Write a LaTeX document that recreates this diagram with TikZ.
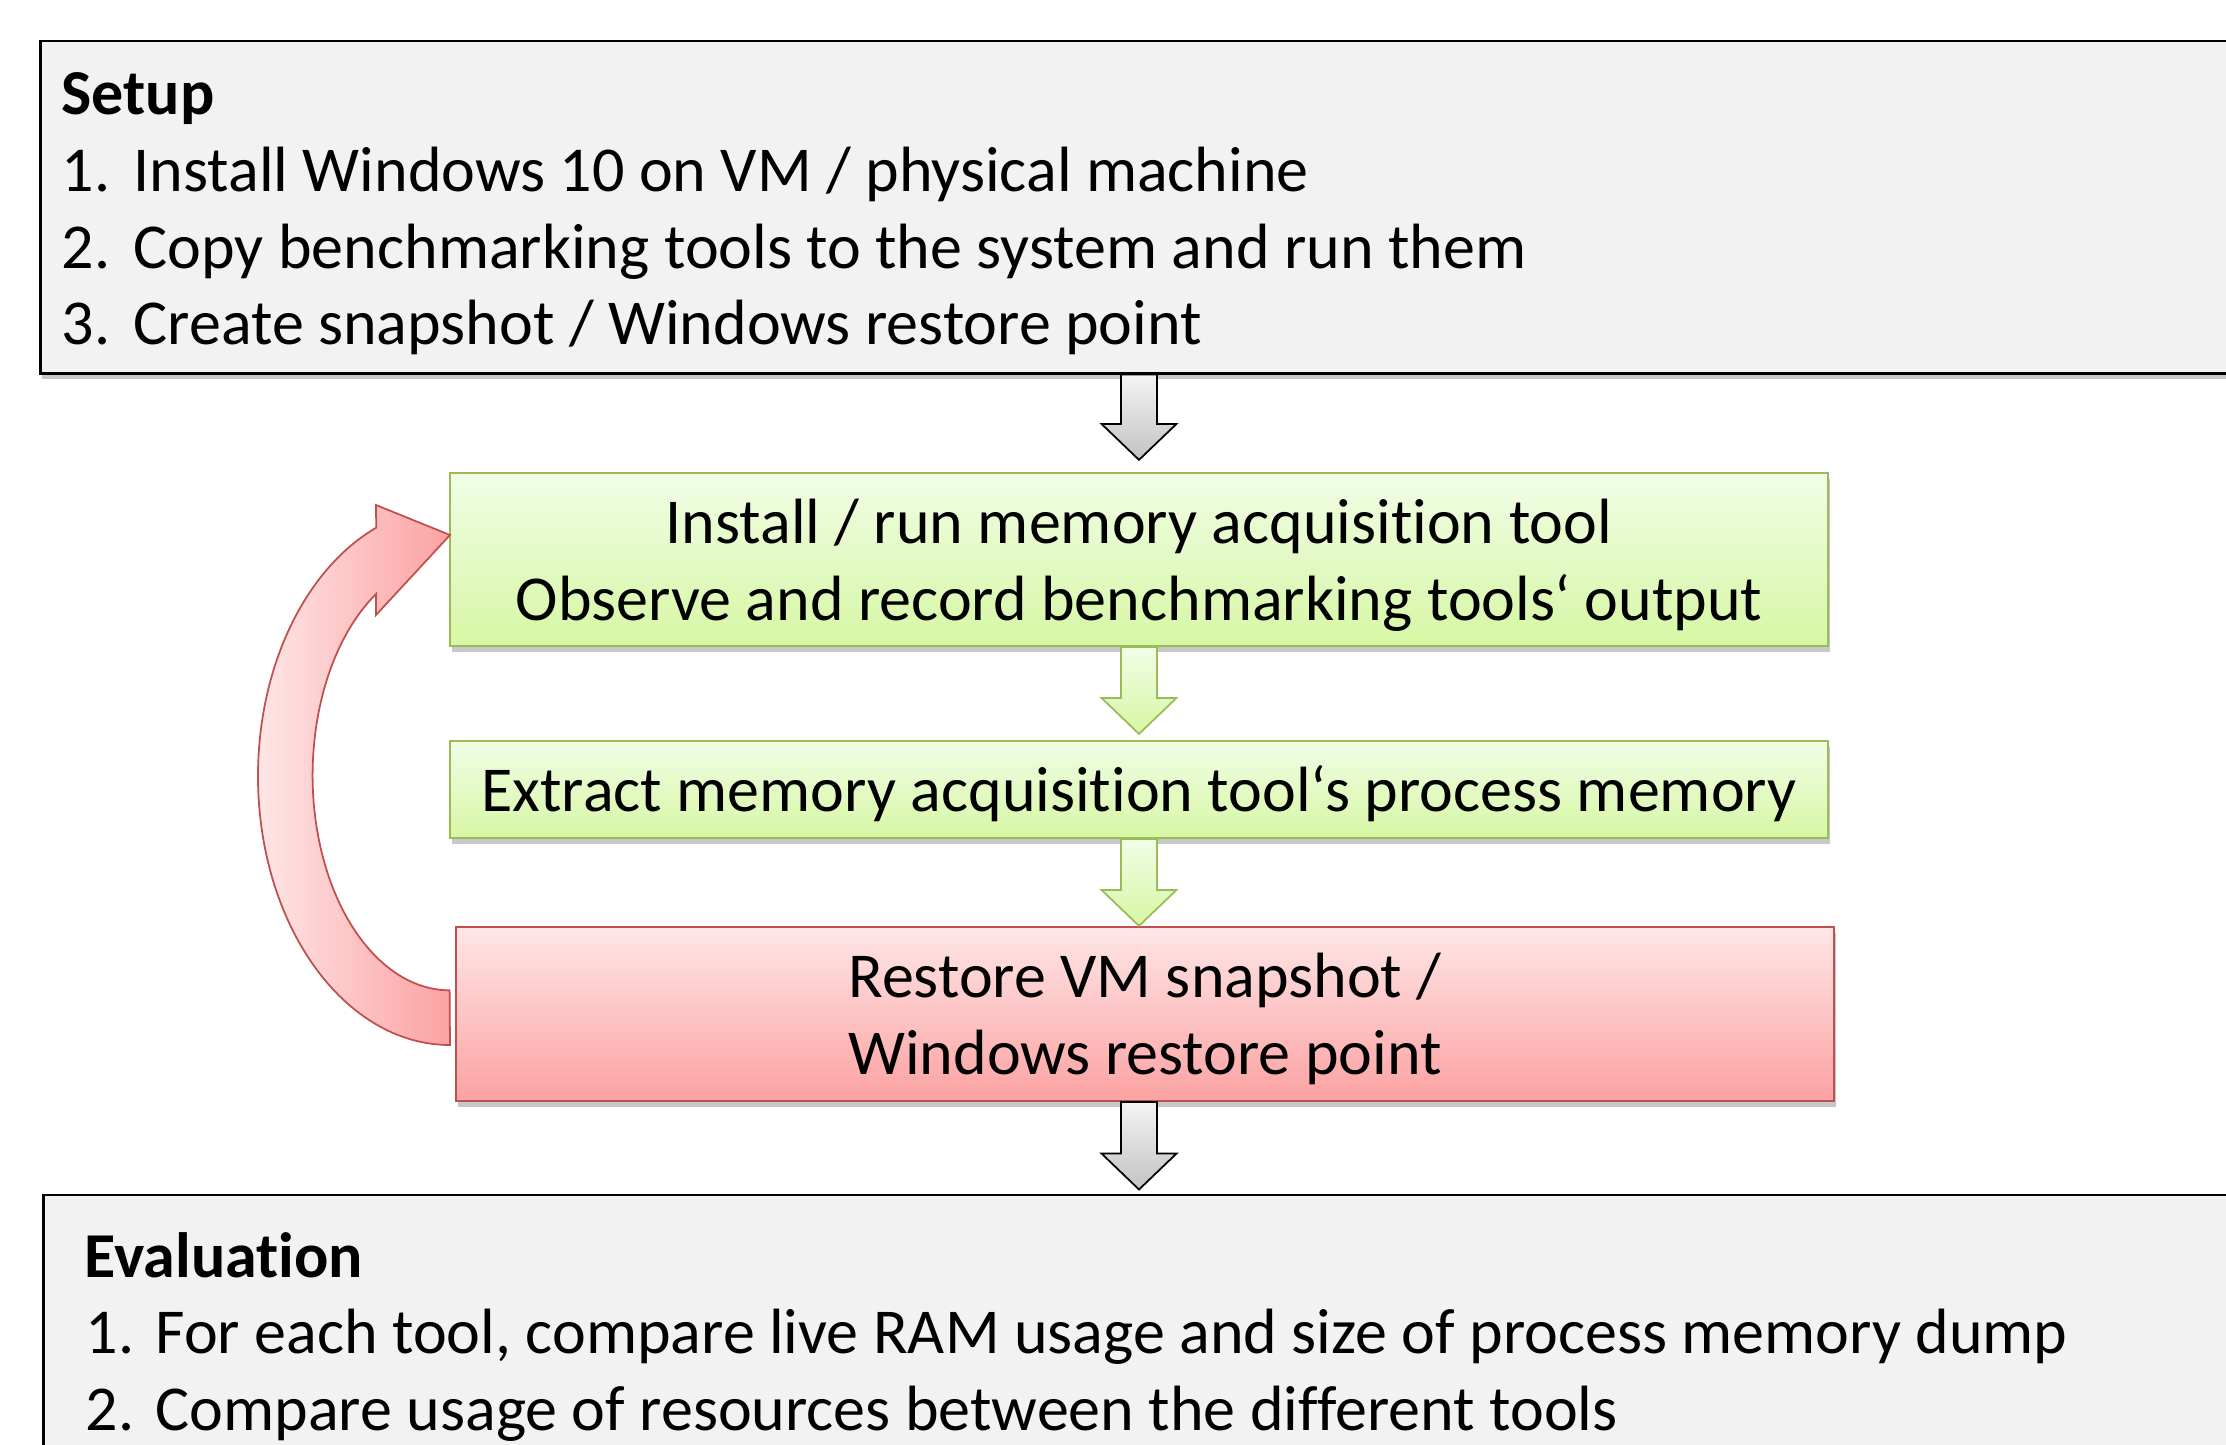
\documentclass[tikz,border=0pt]{standalone}
\usepackage{fontspec}
\setmainfont{Carlito}[Ligatures={TeX,NoCommon}]
\usetikzlibrary{calc,shadows}
\definecolor{boxgray}{HTML}{F2F2F2}
\definecolor{greentop}{HTML}{F1FDE6}
\definecolor{greenbot}{HTML}{D6F7A4}
\definecolor{greenline}{HTML}{9BBB59}
\definecolor{redtop}{HTML}{FEE6E6}
\definecolor{redbot}{HTML}{FCA2A2}
\definecolor{redline}{HTML}{C0504D}
\definecolor{arrgraytop}{HTML}{F4F4F4}
\definecolor{arrgraybot}{HTML}{C2C2C2}
\tikzset{
  myshadow/.style={drop shadow={fill=black, opacity=0.22, shadow xshift=0.02cm, shadow yshift=-0.06cm}},
  graybox/.style={rectangle, draw=black, line width=0.8pt, fill=boxgray, myshadow, inner sep=0pt},
  greenbox/.style={rectangle, draw=greenline, line width=0.6pt, top color=greentop, bottom color=greenbot, myshadow, inner sep=0pt, minimum width=13.78cm},
  redbox/.style={rectangle, draw=redline, line width=0.6pt, top color=redtop, bottom color=redbot, myshadow, inner sep=0pt, minimum width=13.78cm},
  txt/.style={inner sep=0pt, font=\fontsize{18.2pt}{22pt}\selectfont},
  ltxt/.style={txt, anchor=base west},
  ctxt/.style={txt, anchor=base},
  grayarrow/.style={draw=black, line width=0.5pt, top color=arrgraytop, bottom color=arrgraybot},
  greenarrow/.style={draw=greenline, line width=0.5pt, top color=greentop, bottom color=greenbot},
  loopshape/.style={draw=redline, line width=0.5pt, left color=redtop, right color=redbot},
}
\newcommand{\blockarrow}[3]{%
  \draw[#1] ($(#2)+(-18,0)$) -- ($(#3)+(-18,36)$) -- ($(#3)+(-37.5,36)$) -- (#3)
    -- ($(#3)+(37.5,36)$) -- ($(#3)+(18,36)$) -- ($(#2)+(18,0)$) -- cycle;}
\begin{document}
\begin{tikzpicture}[x=0.01cm, y=0.01cm]
\useasboundingbox (0,0) rectangle (2226,-1445);
\clip (0,0) rectangle (2226,-1445);
\fill[white] (0,0) rectangle (2226,-1445);

% boxes
\node[graybox, minimum width=21.99cm, minimum height=3.32cm] (setup) at (1140.5,-207) {};
\node[greenbox, minimum height=1.73cm] (g1) at (1139,-559.5) {};
\node[greenbox, minimum height=0.97cm] (g2) at (1139,-789.5) {};
\node[redbox, minimum height=1.74cm] (red) at (1145,-1014) {};
\node[graybox, minimum width=21.96cm, minimum height=2.65cm] (eval) at (1142,-1327.5) {};

% block arrows
\coordinate (a1s) at (g1.north |- setup.south);
\coordinate (a1t) at ($(g1.north)+(0,12)$);
\coordinate (a2t) at ($(g2.north)+(0,6)$);
\coordinate (a3t) at (g1.north |- red.north);
\coordinate (a4s) at (g1.north |- red.south);
\coordinate (a4t) at ($(g1.north |- eval.north)+(0,4)$);
\blockarrow{grayarrow}{a1s}{a1t}
\blockarrow{greenarrow}{g1.south}{a2t}
\blockarrow{greenarrow}{g2.south}{a3t}
\blockarrow{grayarrow}{a4s}{a4t}

% loop arrow
\draw[loopshape] (450,-1045) arc[start angle=270, end angle=112.6, x radius=192, y radius=269]
  -- (376,-505) -- (450,-535) -- (376,-615) -- (376,-594)
  arc[start angle=122.5, end angle=270, x radius=137, y radius=215] -- cycle;

% setup text
\node[ltxt] (st) at (61,-114) {\bfseries Setup};
\node[ltxt] (sn1) at (61,-191) {1.};
\node[ltxt] (s1) at (133,-191) {Install Windows 10 on VM / physical machine};
\node[ltxt] (sn2) at (61,-268) {2.};
\node[ltxt] (s2) at (133,-268) {Copy benchmarking tools to the system and run them};
\node[ltxt] (sn3) at (61,-344) {3.};
\node[ltxt] (s3) at (133,-344) {Create snapshot / Windows restore point};

% flow texts
\node[ctxt] (t1a) at (1139,-543) {Install / run memory acquisition tool};
\node[ctxt] (t1b) at (1139,-620) {Observe and record benchmarking tools‘ output};
\node[ctxt] (t2) at (1139,-811) {Extract memory acquisition tool‘s process memory};
\node[ctxt] (t3a) at (1145,-997) {Restore VM snapshot /};
\node[ctxt] (t3b) at (1145,-1074) {Windows restore point};

% evaluation text
\node[ltxt] (et) at (84,-1277) {\bfseries Evaluation};
\node[ltxt] (en1) at (85,-1353) {1.};
\node[ltxt] (e1) at (155,-1353) {For each tool, compare live RAM usage and size of process memory dump};
\node[ltxt] (en2) at (85,-1430) {2.};
\node[ltxt] (e2) at (155,-1430) {Compare usage of resources between the different tools};
\end{tikzpicture}
\end{document}
